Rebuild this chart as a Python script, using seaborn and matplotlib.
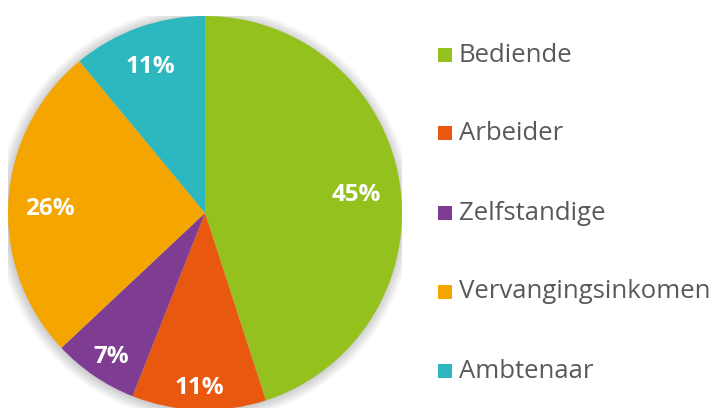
import matplotlib
matplotlib.use("Agg")
import matplotlib.pyplot as plt
import seaborn as sns
import numpy as np
from matplotlib.patches import Circle, Rectangle

sns.set_theme(style="white")
plt.rcParams['font.family'] = ['Open Sans', 'DejaVu Sans']

categories = ["Bediende", "Arbeider", "Zelfstandige", "Vervangingsinkomen", "Ambtenaar"]
values = [45, 11, 7, 26, 11]
colors = ["#95C11F", "#E8590F", "#7E3C92", "#F5A500", "#2DB8C0"]
label_dist = [0.78, 0.86, 0.85, 0.79, 0.82]

W, H = 717, 408
fig = plt.figure(figsize=(W / 100, H / 100), dpi=100)
R = 197
cx, cy = 205, 408 - 213
ax = fig.add_axes([(cx - R) / W, (cy - R) / H, 2 * R / W, 2 * R / H])
ax.axis("off")

wedges, _ = ax.pie(values, colors=colors, startangle=90, counterclock=False,
                   radius=1.0, wedgeprops=dict(linewidth=0))
for w in wedges:
    w.set_zorder(2)

# soft shadow
for i in range(10):
    ax.add_patch(Circle((-0.004, -0.006), 1.0 + 0.006 * i, color="#000000",
                        alpha=0.018, lw=0, zorder=0))

ax.set_xlim(-1, 1)
ax.set_ylim(-1, 1)
ax.set_aspect("equal")

total = sum(values)
cum = 0
y_off = -0.03
for v, d in zip(values, label_dist):
    mid = (cum + v / 2) / total
    ang = np.deg2rad(90 - 360 * mid)
    ax.text(d * np.cos(ang), d * np.sin(ang) + y_off, f"{v}%", ha="center", va="center",
            color="white", fontsize=17.5, fontweight="bold", zorder=3)
    cum += v

# legend
rows_y = [55, 133, 213, 292, 371]
for cat, col, y in zip(categories, colors, rows_y):
    fig.patches.append(Rectangle((438 / W, (408 - y - 7) / H), 14 / W, 14 / H,
                                 transform=fig.transFigure, color=col, lw=0))
    fig.text(459 / W, (408 - y) / H, cat, ha="left", va="center",
             fontsize=18.5, color="#595959")

fig.savefig("out.png", dpi=100)
